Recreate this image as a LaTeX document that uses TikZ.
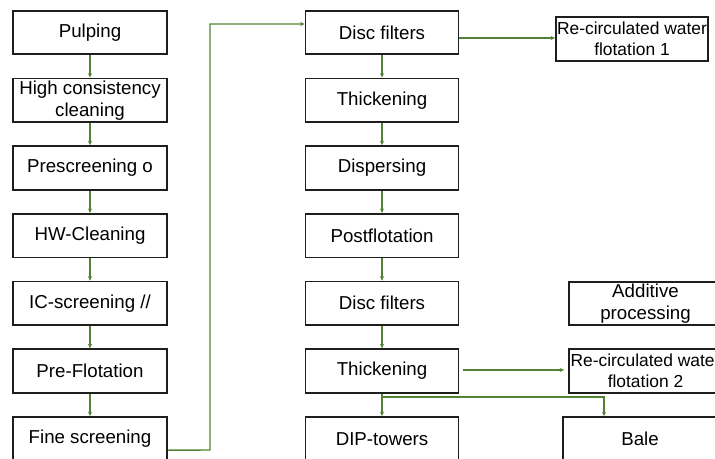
\documentclass[tikz,border=0pt]{standalone}
\usepackage{fontspec}
\setmainfont{Liberation Sans}
\usetikzlibrary{calc,arrows.meta}
\definecolor{flowgreen}{RGB}{84,130,53}
\definecolor{boxline}{RGB}{30,30,30}
\begin{document}
\begin{tikzpicture}[x=1pt,y=-1pt,
  stepbox/.style={draw=boxline,line width=1.7pt,rectangle,inner sep=0pt,
    minimum width=154pt,minimum height=43.5pt,align=center,
    font=\fontsize{18.7}{22}\selectfont},
  smallbox/.style={stepbox,font=\fontsize{17.4}{21}\selectfont},
  flow/.style={draw=flowgreen,line width=1.4pt,-{Stealth[length=4.5pt,width=4pt]}},
  flowline/.style={draw=flowgreen,line width=1.4pt}]
\useasboundingbox (0,0) rectangle (715,458);
\clip (0,0) rectangle (715,458);
% left column
\node[stepbox] (pulp) at (90,32.5) {Pulping};
\node[stepbox] (hcc) at (90,100.2) {High consistency\\cleaning};
\node[stepbox] (pre) at (90,167.9) {Prescreening  o};
\node[stepbox] (hw) at (90,235.6) {HW-Cleaning};
\node[stepbox] (ic) at (90,303.3) {IC-screening  //};
\node[stepbox] (pflot) at (90,371) {Pre-Flotation};
\node[stepbox] (fine) at (90,438.7) {Fine screening};
% middle column
\node[stepbox,minimum width=153pt] (disc1) at (382,32.5) {Disc filters};
\node[stepbox,minimum width=153pt] (thick1) at (382,100.2) {Thickening};
\node[stepbox,minimum width=153pt] (disp) at (382,167.9) {Dispersing};
\node[stepbox,minimum width=153pt] (post) at (382,235.6) {Postflotation};
\node[stepbox,minimum width=153pt] (disc2) at (382,303.3) {Disc filters};
\node[stepbox,minimum width=153pt] (thick2) at (382,371) {Thickening};
\node[stepbox,minimum width=153pt] (dip) at (382,438.7) {DIP-towers};
% right column
\node[smallbox,minimum width=152pt] (rc1) at (632,39) {Re-circulated water\\flotation 1};
\node[stepbox,minimum width=153pt] (add) at (645.5,303.5) {Additive\\processing};
\node[smallbox,minimum width=153pt] (rc2) at (645.5,371) {Re-circulated water\\flotation 2};
\node[stepbox,minimum width=154pt] (bale) at (640,438.7) {Bale};
% left column arrows
\draw[flow] (pulp) -- (hcc);
\draw[flow] (hcc) -- (pre);
\draw[flow] (pre) -- (hw);
\draw[flow] (hw) -- (ic);
\draw[flow] (ic) -- (pflot);
\draw[flow] (pflot) -- (fine);
% transfer
\coordinate (t1) at ($(fine.east)+(0,11.5)$);
\coordinate (t2) at (210,450);
\coordinate (t3) at (210,24);
\coordinate (t4) at ($(disc1.west)+(0,-8.5)$);
\draw[flow] (t1) -- (t2) -- (t3) -- (t4);
% middle column arrows
\draw[flow] (disc1) -- (thick1);
\draw[flow] (thick1) -- (disp);
\draw[flow] (disp) -- (post);
\draw[flow] (post) -- (disc2);
\draw[flow] (disc2) -- (thick2);
\draw[flow] (thick2) -- (dip);
% side branches
\coordinate (r1) at ($(disc1.east)+(0,5.5)$);
\draw[flow] (r1) -- (r1 -| rc1.west);
\coordinate (r2a) at ($(thick2.east)+(4,-1)$);
\coordinate (r2b) at ($(rc2.west)+(-4,-1)$);
\draw[flow] (r2a) -- (r2b);
\coordinate (b1) at ($(thick2.south)+(0,3.5)$);
\coordinate (b2) at ($(bale.north)+(-36,0)$);
\draw[flow] (b1) -- (b1 -| b2) -- (b2);
\end{tikzpicture}
\end{document}
